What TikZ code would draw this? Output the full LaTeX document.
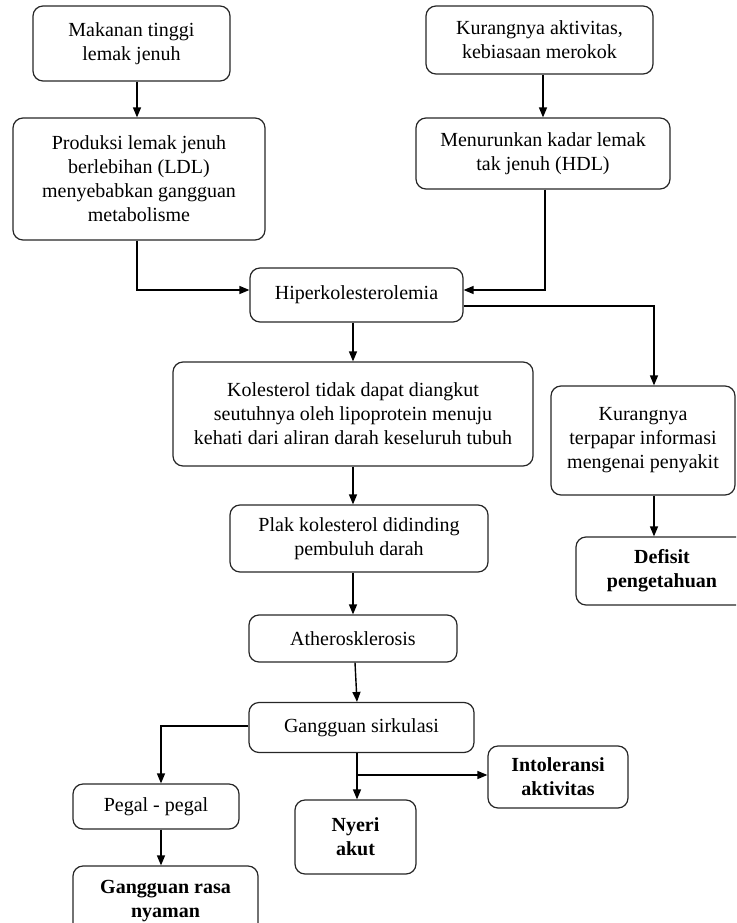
\documentclass[tikz,border=0pt]{standalone}
\usepackage{fontspec}
\setmainfont{Liberation Serif}
\usetikzlibrary{arrows.meta,calc}
\begin{document}
\begin{tikzpicture}[x=1pt,y=-1pt,
  box/.style={draw=black!85, line width=1.2pt, rounded corners=10pt, align=center,
    inner sep=2pt, font=\fontsize{20}{24}\selectfont},
  bbox/.style={box, font=\fontsize{20}{24}\selectfont\bfseries},
  arr/.style={line width=1.4pt, -{Triangle[length=10pt,width=8pt]}}]
\useasboundingbox (0,0) rectangle (736,923);
\clip (0,0) rectangle (736,923);

\node[box, minimum width=197pt, minimum height=75pt] (b1) at (131.5,43.5) {Makanan tinggi\\lemak jenuh};
\node[box, minimum width=252pt, minimum height=122pt] (b2) at (139,179) {Produksi lemak jenuh\\berlebihan (LDL)\\menyebabkan gangguan\\metabolisme};
\node[box, minimum width=227pt, minimum height=68pt] (b3) at (539.5,40) {Kurangnya aktivitas,\\kebiasaan merokok};
\node[box, minimum width=254pt, minimum height=71pt] (b4) at (543,153.5) {Menurunkan kadar lemak\\tak jenuh (HDL)};
\node[box, minimum width=213pt, minimum height=54pt] (hip) at (356.5,295) {Hiperkolesterolemia};
\node[box, minimum width=360pt, minimum height=104pt] (kol) at (353,414) {Kolesterol tidak dapat diangkut\\seutuhnya oleh lipoprotein menuju\\kehati dari aliran darah keseluruh tubuh};
\node[box, minimum width=184pt, minimum height=109pt] (kur) at (643,440.5) {Kurangnya\\terpapar informasi\\mengenai penyakit};
\node[bbox, minimum width=172pt, minimum height=68pt] (def) at (662,571) {Defisit\\pengetahuan};
\node[box, minimum width=258pt, minimum height=67pt] (plak) at (359,538.5) {Plak kolesterol didinding\\pembuluh darah};
\node[box, minimum width=208pt, minimum height=47pt] (ath) at (353,638.5) {Atherosklerosis};
\node[box, minimum width=225pt, minimum height=50pt] (gs) at (361.5,727.5) {Gangguan sirkulasi};
\node[box, minimum width=166pt, minimum height=45pt] (peg) at (156,806.5) {Pegal - pegal};
\node[bbox, minimum width=185pt, minimum height=70pt] (gr) at (165.5,901) {Gangguan rasa\\nyaman};
\node[bbox, minimum width=121pt, minimum height=74pt] (ny) at (355.5,837) {Nyeri\\akut};
\node[bbox, minimum width=140pt, minimum height=62pt] (int) at (558,777) {Intoleransi\\aktivitas};

\draw[arr] ([xshift=5.5pt]b1.south) -- ([xshift=5.5pt]b1.south |- b2.north);
\draw[arr] ([xshift=-2pt]b2.south) |- ([yshift=5pt]hip.west);
\draw[arr] (b4.north |- b3.south) -- (b4.north);
\draw[arr] ([xshift=2pt]b4.south) |- ([yshift=5pt]hip.east);
\draw[arr] ([yshift=-11pt]hip.east) -| ([xshift=11pt]kur.north);
\draw[arr] (kol.north |- hip.south) -- (kol.north);
\draw[arr] (kol.south) -- (kol.south |- plak.north);
\draw[arr] (ath.north |- plak.south) -- (ath.north);
\draw[arr] ([xshift=11pt]kur.south) -- ([xshift=11pt]kur.south |- def.north);
\draw[arr] ([xshift=2pt]ath.south) -- ([xshift=-4.5pt]gs.north);
\draw[arr] ([yshift=1.5pt]gs.west) -| ([xshift=5pt]peg.north);
\draw[arr] ([xshift=5pt]peg.south) -- ([xshift=5pt]peg.south |- gr.north);
\draw[arr] ([xshift=1.5pt]ny.north |- gs.south) -- ([xshift=1.5pt]ny.north);
\coordinate (br) at ([xshift=1.5pt]ny.north |- int.west);
\draw[arr] ([yshift=2pt]br) -- ([yshift=2pt]int.west);
\end{tikzpicture}
\end{document}
